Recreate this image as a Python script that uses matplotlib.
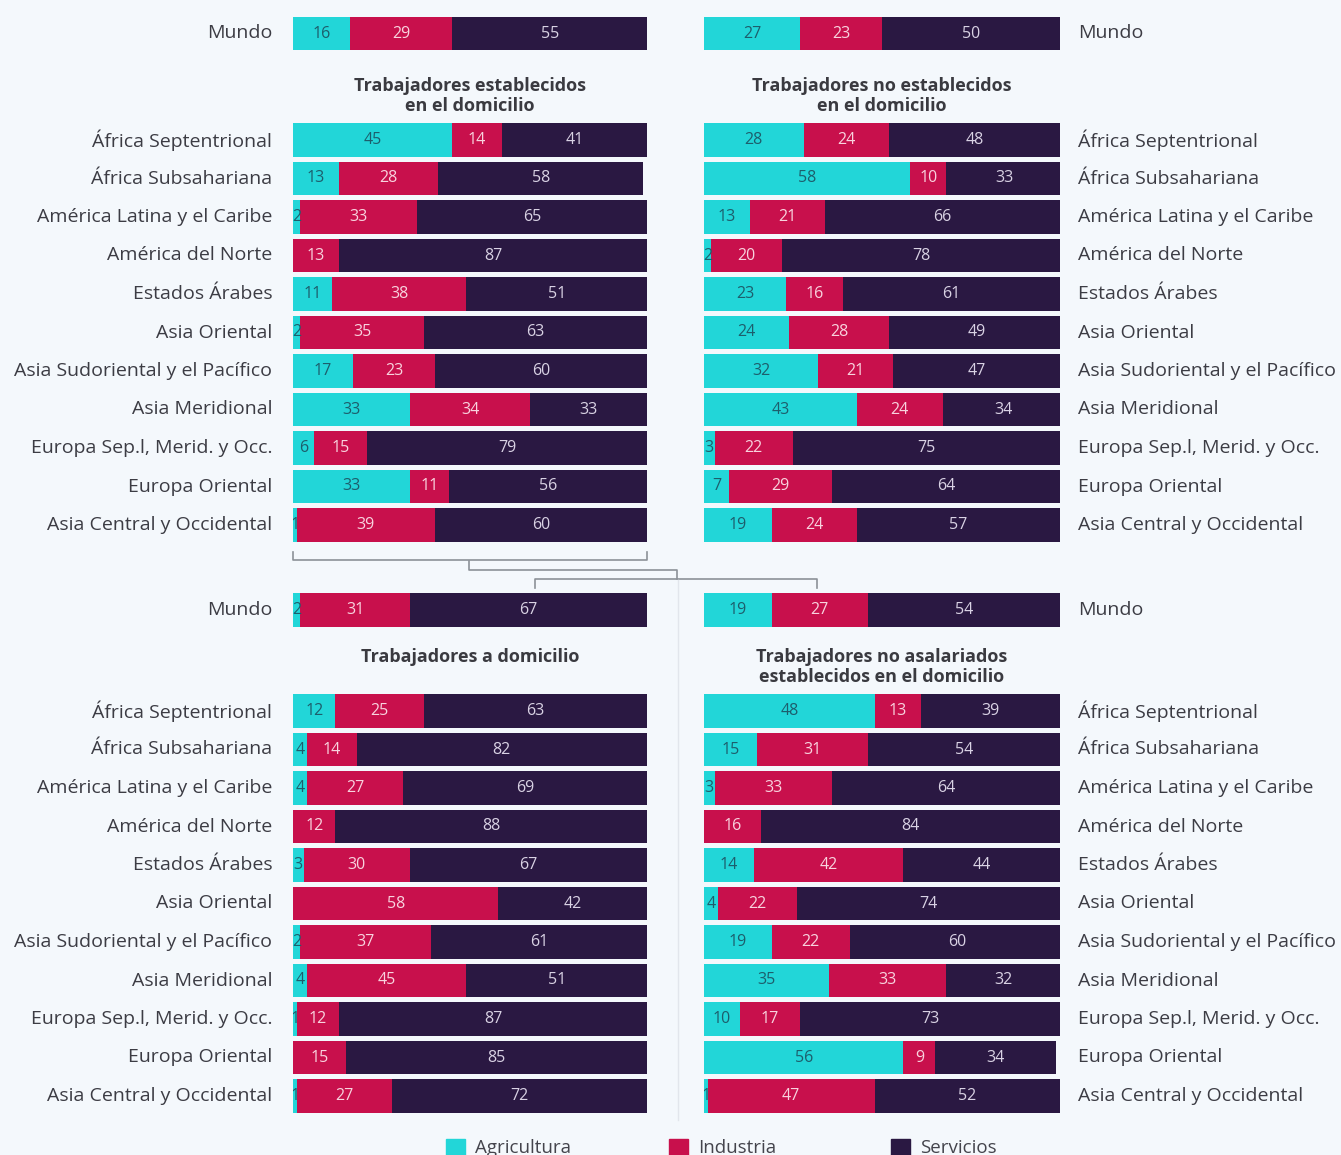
import matplotlib
matplotlib.use("Agg")
import matplotlib.pyplot as plt
from matplotlib.lines import Line2D
from matplotlib.patches import Patch
import numpy as np

plt.rcParams["font.family"] = ["Open Sans", "DejaVu Sans"]

# ---- data ----
regions = ["África Septentrional", "África Subsahariana", "América Latina y el Caribe",
           "América del Norte", "Estados Árabes", "Asia Oriental",
           "Asia Sudoriental y el Pacífico", "Asia Meridional",
           "Europa Sep.l, Merid. y Occ.", "Europa Oriental", "Asia Central y Occidental"]
sectors = ["Agricultura", "Industria", "Servicios"]

titles = ["Trabajadores establecidos\nen el domicilio",
          "Trabajadores no establecidos\nen el domicilio",
          "Trabajadores a domicilio",
          "Trabajadores no asalariados\nestablecidos en el domicilio"]

world_agri = [16, 27, 2, 19]
world_ind = [29, 23, 31, 27]
world_serv = [55, 50, 67, 54]

est_agri = [45, 13, 2, 0, 11, 2, 17, 33, 6, 33, 1]
est_ind = [14, 28, 33, 13, 38, 35, 23, 34, 15, 11, 39]
est_serv = [41, 58, 65, 87, 51, 63, 60, 33, 79, 56, 60]

noest_agri = [28, 58, 13, 2, 23, 24, 32, 43, 3, 7, 19]
noest_ind = [24, 10, 21, 20, 16, 28, 21, 24, 22, 29, 24]
noest_serv = [48, 33, 66, 78, 61, 49, 47, 34, 75, 64, 57]

dom_agri = [12, 4, 4, 0, 3, 0, 2, 4, 1, 0, 1]
dom_ind = [25, 14, 27, 12, 30, 58, 37, 45, 12, 15, 27]
dom_serv = [63, 82, 69, 88, 67, 42, 61, 51, 87, 85, 72]

noasal_agri = [48, 15, 3, 0, 14, 4, 19, 35, 10, 56, 1]
noasal_ind = [13, 31, 33, 16, 42, 22, 22, 33, 17, 9, 47]
noasal_serv = [39, 54, 64, 84, 44, 74, 60, 32, 73, 34, 52]

panels = [(est_agri, est_ind, est_serv),
          (noest_agri, noest_ind, noest_serv),
          (dom_agri, dom_ind, dom_serv),
          (noasal_agri, noasal_ind, noasal_serv)]

# ---- style ----
BG = "#f4f8fc"
COLORS = ["#22d6d8", "#c8104c", "#2a1842"]
TXT_IN = ["#1d5e6c", "#f8d3de", "#d9d2e4"]
LABEL_C = "#3c3c44"

W, H = 1341, 1155
fig = plt.figure(figsize=(W / 100, H / 100), dpi=100)
fig.patch.set_facecolor(BG)


def box(x0, y0, x1, y1):
    return [x0 / W, 1 - y1 / H, (x1 - x0) / W, (y1 - y0) / H]


def draw_rows(ax, agri, ind, serv, labels, right):
    y = np.arange(len(labels))
    vals = [np.array(agri), np.array(ind), np.array(serv)]
    left = np.zeros(len(labels))
    for k, v in enumerate(vals):
        ax.barh(y, v, left=left, height=0.86, color=COLORS[k], linewidth=0)
        for yi, (l, w) in enumerate(zip(left, v)):
            if w > 0:
                ax.text(l + w / 2, yi, str(w), ha="center", va="center",
                        fontsize=11.5, color=TXT_IN[k], clip_on=True)
        left = left + v
    ax.set_xlim(0, 100)
    ax.set_ylim(len(labels) - 0.5, -0.5)
    ax.set_yticks(y)
    ax.set_yticklabels(labels, fontsize=14, color=LABEL_C, va="center")
    ax.set_xticks([])
    if right:
        ax.yaxis.tick_right()
        ax.tick_params(axis="y", length=0, pad=13)
    else:
        ax.tick_params(axis="y", length=0, pad=15)
    for s in ax.spines.values():
        s.set_visible(False)
    ax.set_facecolor("none")


# panel geometry in pixels
xs = [(293, 647), (704, 1060), (293, 647), (704, 1060)]
row_top = [120.75, 120.75, 691.75, 691.75]
row_bot = [544.25, 544.25, 1115.25, 1115.25]
world_c = [33.5, 33.5, 610, 610]
title_y = [96, 96, 657, 667]

for i in range(4):
    x0, x1 = xs[i]
    right = i % 2 == 1
    ax = fig.add_axes(box(x0, row_top[i], x1, row_bot[i]))
    a, b, c = panels[i]
    draw_rows(ax, a, b, c, regions, right)

    axw = fig.add_axes(box(x0, world_c[i] - 19.25, x1, world_c[i] + 19.25))
    draw_rows(axw, [world_agri[i]], [world_ind[i]], [world_serv[i]], ["Mundo"], right)

    fig.text((x0 + x1) / 2 / W, 1 - title_y[i] / H, titles[i], ha="center", va="center",
             fontsize=13, fontweight="bold", color="#3a3a40", linespacing=1.15)

# connector brackets
bc = "#8c9198"
brackets = [([293, 293, 647, 647], [552, 560, 560, 552]),
            ([469, 469, 677, 677], [561, 570, 570, 579]),
            ([535, 535, 817, 817], [588, 579, 579, 588])]
for bx, by in brackets:
    fig.add_artist(Line2D([v / W for v in bx], [1 - v / H for v in by],
                          color=bc, lw=1.2, transform=fig.transFigure))
fig.add_artist(Line2D([678 / W, 678 / W], [1 - 580 / H, 1 - 1120 / H],
                      color="#e2e6ec", lw=1, transform=fig.transFigure))

# legend
leg_x = [445, 668, 890]
for k, name in enumerate(sectors):
    lg = fig.legend(handles=[Patch(color=COLORS[k], label=name)],
                    loc="center left", bbox_to_anchor=(leg_x[k] / W - 0.006, 1 - 1148 / H),
                    frameon=False, fontsize=13.5, handlelength=1.0, handleheight=1.0,
                    handletextpad=0.55, borderpad=0)
    for t in lg.get_texts():
        t.set_color("#44444c")

fig.savefig("out.png", dpi=100, facecolor=BG)
